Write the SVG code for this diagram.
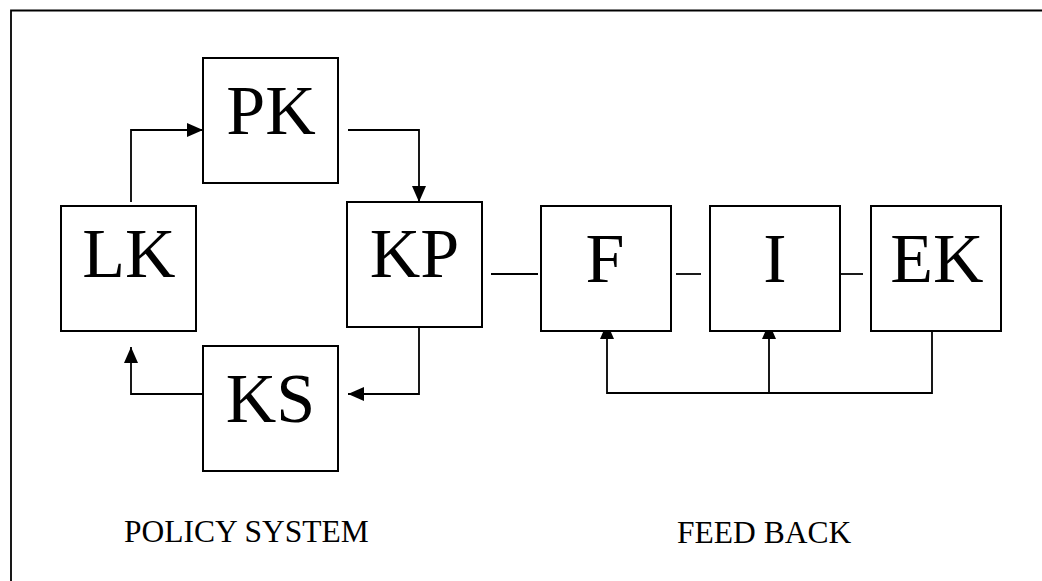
<svg xmlns="http://www.w3.org/2000/svg" width="1042" height="581" viewBox="0 0 1042 581">
<defs>
<style>
.box{fill:#fff;stroke:#000;stroke-width:2}
.ln{fill:none;stroke:#000;stroke-width:1.8}
.big{font-family:"Liberation Serif","Times New Roman",serif;font-size:70px;text-anchor:middle;fill:#000}
.cap{font-family:"Liberation Serif","Times New Roman",serif;font-size:31.5px;fill:#000}
</style>
<marker id="ah" viewBox="0 0 16 14" refX="16" refY="7" markerWidth="16" markerHeight="14" markerUnits="userSpaceOnUse" orient="auto">
<path d="M0,0 L16,7 L0,14 Z" fill="#000"/>
</marker>
</defs>
<rect width="1042" height="581" fill="#fff"/>
<path class="ln" d="M11,581 V10.5 H1042"/>
<g id="connectors">
<path class="ln" d="M131,202 V130 H203" marker-end="url(#ah)"/>
<path class="ln" d="M348,130 H419 V202" marker-end="url(#ah)"/>
<path class="ln" d="M419,322 V394 H348" marker-end="url(#ah)"/>
<path class="ln" d="M203,394 H131 V347" marker-end="url(#ah)"/>
<path class="ln" d="M491,274 H538"/>
<path class="ln" d="M676,274 H701"/>
<path class="ln" d="M839,274 H863"/>
<path class="ln" d="M932,322 V393 H607 V323" marker-end="url(#ah)"/>
<path class="ln" d="M769,393 V323" marker-end="url(#ah)"/>
</g>
<g id="PK"><rect class="box" x="203" y="58" width="135" height="125"/><text class="big" x="271" y="134">PK</text></g>
<g id="LK"><rect class="box" x="61" y="206" width="135" height="125"/><text class="big" x="129" y="277">LK</text></g>
<g id="KP"><rect class="box" x="347" y="202" width="135" height="125"/><text class="big" x="414.5" y="277">KP</text></g>
<g id="KS"><rect class="box" x="203" y="346" width="135" height="125"/><text class="big" x="270.5" y="422">KS</text></g>
<g id="F"><rect class="box" x="541" y="206" width="130" height="125"/><text class="big" x="605" y="282">F</text></g>
<g id="I"><rect class="box" x="710" y="206" width="130" height="125"/><text class="big" x="775" y="282">I</text></g>
<g id="EK"><rect class="box" x="871" y="206" width="130" height="125"/><text class="big" x="937" y="282">EK</text></g>
<text class="cap" x="124" y="542">POLICY SYSTEM</text>
<text class="cap" x="677" y="543">FEED BACK</text>
</svg>
